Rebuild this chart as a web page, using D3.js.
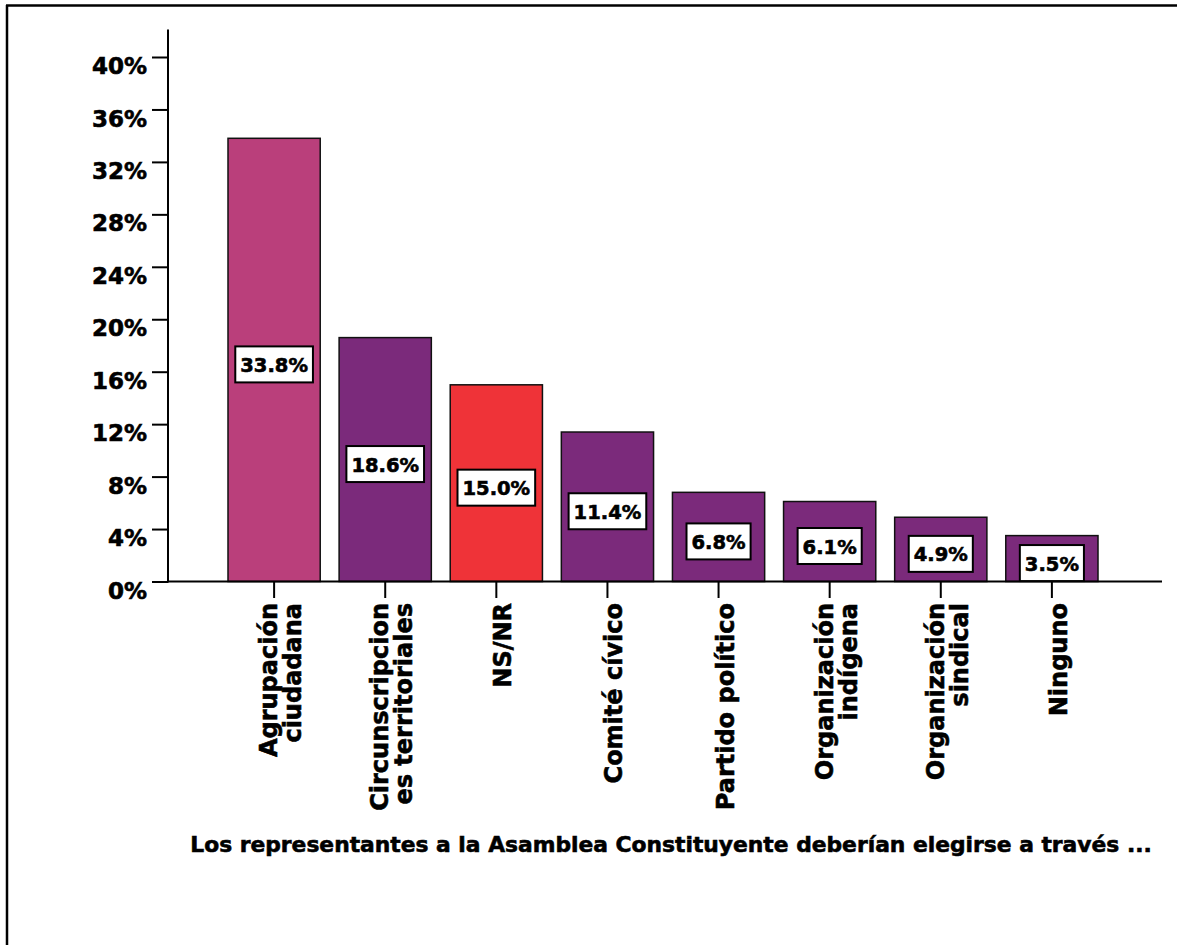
<!DOCTYPE html>
<html>
<head>
<meta charset="utf-8">
<script src="https://cdn.jsdelivr.net/npm/d3@7"></script>
<style>
  html, body { margin: 0; padding: 0; background: #fff; }
  svg { display: block; }
  text { font-family: "DejaVu Sans", "Liberation Sans", Arial, sans-serif; font-weight: bold; fill: #000;
         stroke: #000; stroke-width: 0.6px; paint-order: stroke; }
</style>
</head>
<body>
<svg id="chart" width="1177" height="945"></svg>
<script>
// ---- data ----
const categories = [
  ["Agrupación", "ciudadana"],
  ["Circunscripcion", "es territoriales"],
  ["NS/NR"],
  ["Comité cívico"],
  ["Partido político"],
  ["Organización", "indígena"],
  ["Organización", "sindical"],
  ["Ninguno"]
];
const values = [33.8, 18.6, 15.0, 11.4, 6.8, 6.1, 4.9, 3.5];
const barColors = ["#BA3F7B", "#7B2A7B", "#EF3338", "#7B2A7B", "#7B2A7B", "#7B2A7B", "#7B2A7B", "#7B2A7B"];
const yTicks = [0, 4, 8, 12, 16, 20, 24, 28, 32, 36, 40];
const xTitle = "Los representantes a la Asamblea Constituyente deberían elegirse a través ...";

// ---- layout ----
const svg = d3.select("#chart");
const W = 1177, H = 945;
const axisX = 168;
const y = d3.scaleLinear().domain([0, 40]).range([581.5, 57]);
const x = d3.scaleBand().domain(d3.range(categories.length)).range([228, 1098]).paddingInner(0.17).paddingOuter(0);

// outer frame (top and left edges)
svg.append("line").attr("x1", 6).attr("x2", W).attr("y1", 5.5).attr("y2", 5.5)
  .attr("stroke", "#000").attr("stroke-width", 2.5);
svg.append("line").attr("x1", 7).attr("x2", 7).attr("y1", 5).attr("y2", H)
  .attr("stroke", "#000").attr("stroke-width", 2.5);

// bars
svg.append("g").selectAll("rect").data(values).join("rect")
  .attr("x", (d, i) => x(i))
  .attr("y", d => y(d))
  .attr("width", x.bandwidth())
  .attr("height", d => y(0) - y(d))
  .attr("fill", (d, i) => barColors[i])
  .attr("stroke", "#111").attr("stroke-width", 1.5);

// y axis
const yAxis = d3.axisLeft(y).tickValues(yTicks).tickFormat(d => d + "%")
  .tickSize(16).tickSizeOuter(0).tickPadding(5);
const gy = svg.append("g").attr("transform", `translate(${axisX},0)`).call(yAxis);
gy.select(".domain").remove();
gy.selectAll(".tick line").attr("stroke", "#000").attr("stroke-width", 2);
gy.selectAll(".tick text").attr("font-size", 23).attr("dy", "0.72em")
  .style("font-family", '"DejaVu Sans", sans-serif').style("font-weight", "bold");
svg.append("line").attr("x1", axisX).attr("x2", axisX).attr("y1", y(42.1)).attr("y2", y(0) + 1)
  .attr("stroke", "#000").attr("stroke-width", 2);

// x axis line
svg.append("line").attr("x1", axisX).attr("x2", 1162).attr("y1", y(0)).attr("y2", y(0))
  .attr("stroke", "#000").attr("stroke-width", 2.2);

// x ticks + rotated labels
const capH = 18, lineH = 24;
const gx = svg.append("g").selectAll("g").data(categories).join("g")
  .attr("transform", (d, i) => `translate(${x(i) + x.bandwidth() / 2},0)`);
gx.append("line").attr("x1", 0).attr("x2", 0).attr("y1", y(0)).attr("y2", y(0) + 16.5)
  .attr("stroke", "#000").attr("stroke-width", 2);
gx.each(function(lines) {
  const n = lines.length;
  const first = 6 - (capH + (n - 1) * lineH) / 2 + capH;
  const t = d3.select(this).append("text")
    .attr("transform", `translate(0,603) rotate(-90)`)
    .attr("text-anchor", "end")
    .attr("font-size", 24);
  lines.forEach((ln, k) => {
    t.append("tspan").attr("x", 0).attr("y", first + k * lineH).text(ln);
  });
});

// value labels
const lab = svg.append("g").selectAll("g").data(values).join("g")
  .attr("transform", (d, i) => `translate(${x(i) + x.bandwidth() / 2},${y(d / 2) + 4.5})`);
lab.append("rect").attr("fill", "#fff").attr("stroke", "#000").attr("stroke-width", 2);
lab.append("text").attr("text-anchor", "middle").attr("font-size", 19.5).attr("y", 7.5)
  .text(d => d.toFixed(1) + "%");
lab.each(function() {
  const g = d3.select(this);
  const w = g.select("text").node().getComputedTextLength();
  g.select("rect").attr("x", -w / 2 - 5).attr("y", -18).attr("width", w + 10).attr("height", 36);
});

// axis title
svg.append("text").attr("x", 671).attr("y", 852).attr("text-anchor", "middle")
  .attr("font-size", 21.8).text(xTitle);
</script>
</body>
</html>
